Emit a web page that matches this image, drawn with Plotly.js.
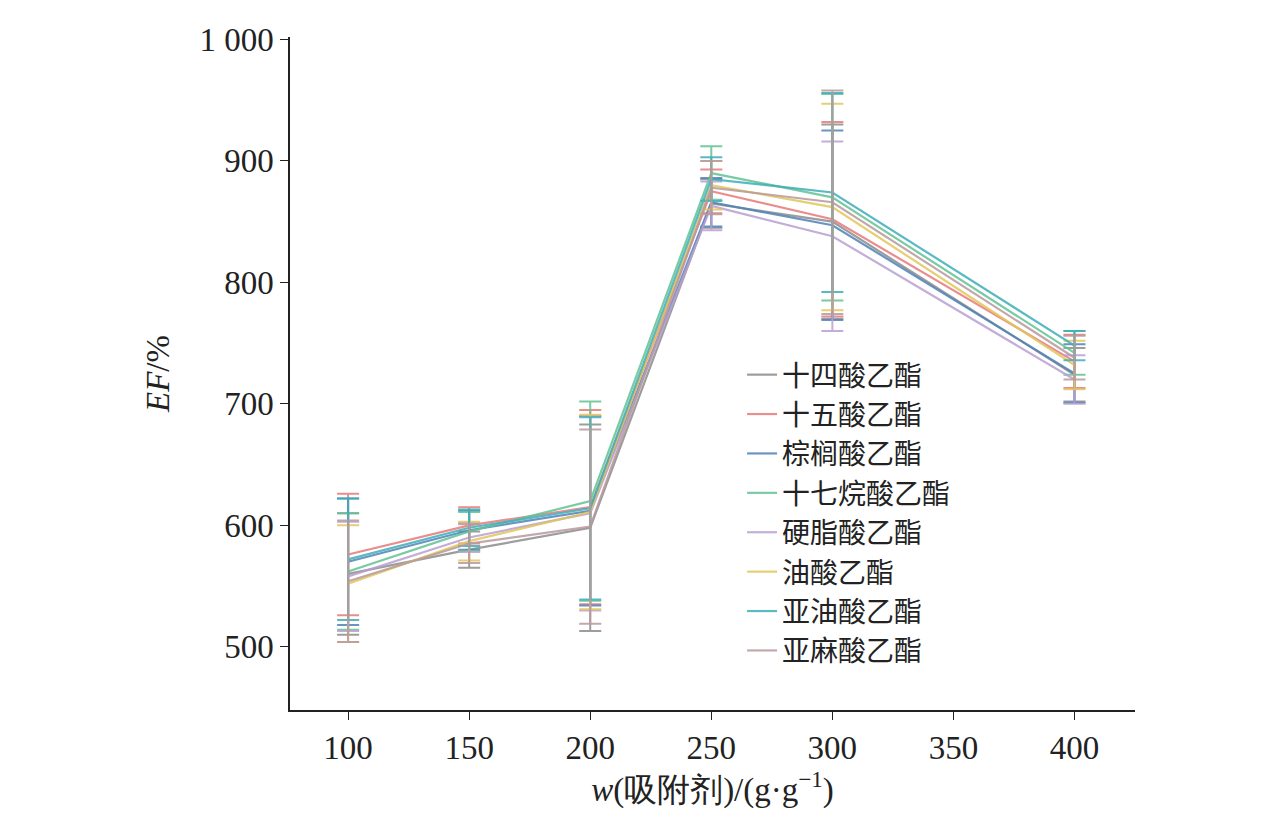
<!DOCTYPE html>
<html>
<head>
<meta charset="utf-8">
<script src="https://cdn.plot.ly/plotly-3.0.1.min.js"></script>
<style>body{margin:0;background:#fff}</style>
</head>
<body>
<div id="chart" style="width:1276px;height:817px"></div>
<script>
const doses = [100, 150, 200, 250, 300, 400];
const names = ['十四酸乙酯', '十五酸乙酯', '棕榈酸乙酯', '十七烷酸乙酯', '硬脂酸乙酯', '油酸乙酯', '亚油酸乙酯', '亚麻酸乙酯'];
const colors = ['#8c8c8c', '#e87a7a', '#4f83b8', '#62c295', '#b9a0d2', '#e2c65a', '#3eaeba', '#b89a9e'];
const efValues = [
  [560, 580, 598, 865, 850, 724],
  [576, 600, 615, 875, 852, 735],
  [570, 596, 612, 866, 847, 725],
  [562, 595, 620, 890, 870, 742],
  [558, 590, 610, 863, 838, 720],
  [552, 587, 611, 880, 862, 732],
  [572, 598, 614, 885, 874, 748],
  [554, 585, 599, 878, 866, 738]
];
const efErrors = [
  [50, 15, 85, 20, 80, 22],
  [50, 15, 80, 18, 80, 22],
  [52, 16, 78, 20, 78, 24],
  [48, 16, 82, 22, 85, 18],
  [45, 12, 80, 20, 78, 20],
  [48, 16, 80, 20, 85, 20],
  [50, 15, 75, 18, 82, 12],
  [50, 16, 80, 22, 92, 18]
];

const traces = names.map((n, i) => ({
  x: doses, y: efValues[i], name: n, type: 'scatter', mode: 'lines',
  line: {color: colors[i], width: 2.2}, opacity: 0.85,
  error_y: {type: 'data', array: efErrors[i], color: colors[i], thickness: 2, width: 11}
}));

const serif = 'Liberation Serif, Times New Roman, serif';
Plotly.newPlot('chart', traces, {
  width: 1276, height: 817,
  margin: {l: 290, r: 141, t: 37, b: 107},
  paper_bgcolor: '#fff', plot_bgcolor: '#fff',
  font: {family: serif, size: 33, color: '#222'},
  showlegend: true,
  legend: {x: 0.535, y: 0.535, xanchor: 'left', yanchor: 'top', bgcolor: 'rgba(0,0,0,0)',
    font: {family: 'Noto Sans CJK SC, sans-serif', size: 28}, tracegroupgap: 0},
  xaxis: {
    range: [76, 425], tickvals: [100, 150, 200, 250, 300, 350, 400],
    showgrid: false, zeroline: false, showline: true, linecolor: '#222', linewidth: 1.5,
    ticks: 'outside', ticklen: 8, tickcolor: '#222',
    title: {text: '<i>w</i>(吸附剂)/(g·g<sup>−1</sup>)', font: {size: 33}, standoff: 8}
  },
  yaxis: {
    range: [448, 1002], tickvals: [500, 600, 700, 800, 900, 1000],
    ticktext: ['500', '600', '700', '800', '900', '1 000'],
    showgrid: false, zeroline: false, showline: true, linecolor: '#222', linewidth: 1.5,
    ticks: 'outside', ticklen: 8, tickcolor: '#222',
    title: {text: '<i>EF</i>/%', font: {size: 33}, standoff: 20}
  }
}, {displayModeBar: false});
</script>
</body>
</html>
